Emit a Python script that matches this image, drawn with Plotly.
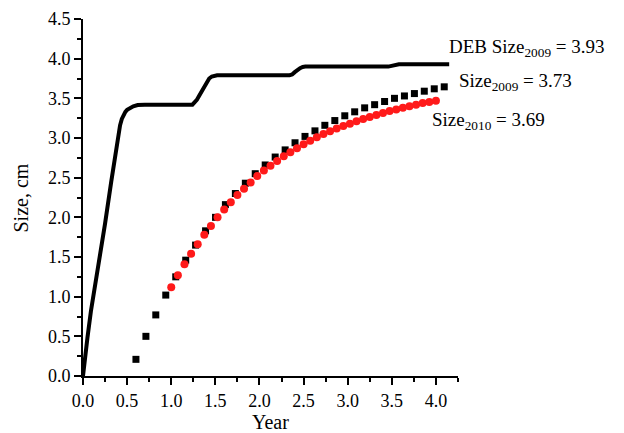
import plotly.graph_objects as go

# DEB model prediction (solid line)
deb_year = [0.00, 0.02, 0.05, 0.09, 0.13, 0.18, 0.25, 0.32, 0.40, 0.42, 0.44, 0.46,
            0.48, 0.50, 0.53, 0.57, 0.62, 0.70, 1.24, 1.26, 1.29, 1.32, 1.36, 1.40,
            1.43, 1.46, 1.49, 1.52, 2.34, 2.37, 2.40, 2.43, 2.46, 2.49, 2.52, 3.46,
            3.49, 3.52, 3.55, 3.58, 4.15]
deb_size = [0.00, 0.22, 0.48, 0.82, 1.08, 1.42, 1.92, 2.45, 3.06, 3.16, 3.24, 3.29,
            3.33, 3.355, 3.38, 3.40, 3.415, 3.42, 3.42, 3.44, 3.48, 3.54, 3.62, 3.70,
            3.75, 3.775, 3.787, 3.79, 3.79, 3.80, 3.83, 3.86, 3.88, 3.895, 3.90, 3.90,
            3.91, 3.92, 3.93, 3.93, 3.93]

# 2009 size observations (black squares)
year_2009 = [0.600, 0.713, 0.825, 0.938, 1.051, 1.164, 1.276, 1.389, 1.502, 1.614,
             1.727, 1.840, 1.952, 2.065, 2.178, 2.291, 2.403, 2.516, 2.629, 2.741,
             2.854, 2.967, 3.079, 3.192, 3.305, 3.418, 3.530, 3.643, 3.756, 3.868,
             3.981, 4.094]
size_2009 = [0.21, 0.50, 0.77, 1.02, 1.25, 1.46, 1.65, 1.83, 2.00, 2.16,
             2.30, 2.43, 2.55, 2.66, 2.76, 2.85, 2.94, 3.02, 3.09, 3.16,
             3.22, 3.28, 3.33, 3.38, 3.42, 3.46, 3.50, 3.53, 3.56, 3.59,
             3.62, 3.645]

# 2010 size observations (red circles)
year_2010 = [1.000, 1.075, 1.150, 1.225, 1.300, 1.375, 1.450, 1.525, 1.600, 1.675,
             1.750, 1.825, 1.900, 1.975, 2.050, 2.125, 2.200, 2.275, 2.350, 2.425,
             2.500, 2.575, 2.650, 2.725, 2.800, 2.875, 2.950, 3.025, 3.100, 3.175,
             3.250, 3.325, 3.400, 3.475, 3.550, 3.625, 3.700, 3.775, 3.850, 3.925,
             4.000]
size_2010 = [1.12, 1.27, 1.41, 1.54, 1.66, 1.78, 1.89, 2.00, 2.10, 2.19,
             2.28, 2.36, 2.44, 2.52, 2.59, 2.65, 2.71, 2.77, 2.82, 2.87,
             2.92, 2.965, 3.01, 3.05, 3.085, 3.12, 3.15, 3.18, 3.21, 3.24,
             3.265, 3.29, 3.315, 3.34, 3.36, 3.38, 3.40, 3.42, 3.44, 3.455,
             3.47]

# Text labels with their anchor positions (year, size)
labels = ["DEB Size<sub>2009</sub> = 3.93",
          "Size<sub>2009</sub> = 3.73",
          "Size<sub>2010</sub> = 3.69"]
label_x = [4.128, 4.238, 3.93]
label_y = [4.13, 3.70, 3.22]

x_title = "Year"
y_title = "Size, cm"

FONT = "Liberation Serif, Times New Roman, serif"

fig = go.Figure()
fig.add_trace(go.Scatter(x=deb_year, y=deb_size, mode="lines",
                         line=dict(color="black", width=4),
                         showlegend=False))
fig.add_trace(go.Scatter(x=year_2009, y=size_2009, mode="markers",
                         marker=dict(symbol="square", size=7, color="black"),
                         showlegend=False))
fig.add_trace(go.Scatter(x=year_2010, y=size_2010, mode="markers",
                         marker=dict(symbol="circle", size=8, color="#ff1a1a"),
                         showlegend=False))

for txt, lx, ly in zip(labels, label_x, label_y):
    fig.add_annotation(x=lx, y=ly, text=txt, showarrow=False,
                       xanchor="left", yanchor="middle",
                       font=dict(family=FONT, size=19, color="black"))

# Axis titles placed relative to the plotting area
fig.add_annotation(x=0.5, y=-0.128, xref="paper", yref="paper", text=x_title,
                   showarrow=False, xanchor="center", yanchor="middle",
                   font=dict(family=FONT, size=20, color="black"))
fig.add_annotation(x=-0.168, y=0.5, xref="paper", yref="paper", text=y_title,
                   showarrow=False, xanchor="center", yanchor="middle", textangle=-90,
                   font=dict(family=FONT, size=20, color="black"))

axis_common = dict(
    showline=True, linecolor="black", linewidth=2,
    ticks="outside", ticklen=7, tickwidth=2, tickcolor="black",
    showgrid=False, zeroline=False, mirror=False, automargin=False,
    tickfont=dict(family=FONT, size=18, color="black"),
    tickformat=".1f",
)

fig.update_xaxes(range=[0, 4.25], dtick=0.5, tick0=0,
                 minor=dict(dtick=0.25, ticks="outside", ticklen=4, tickwidth=2, tickcolor="black"),
                 **axis_common)
fig.update_yaxes(range=[0, 4.5], dtick=0.5, tick0=0,
                 minor=dict(dtick=0.25, ticks="outside", ticklen=4, tickwidth=2, tickcolor="black"),
                 **axis_common)

fig.update_layout(
    width=624, height=433,
    margin=dict(l=83, r=166, t=19, b=57),
    plot_bgcolor="white", paper_bgcolor="white",
    showlegend=False,
)

fig.write_html("out.html")
